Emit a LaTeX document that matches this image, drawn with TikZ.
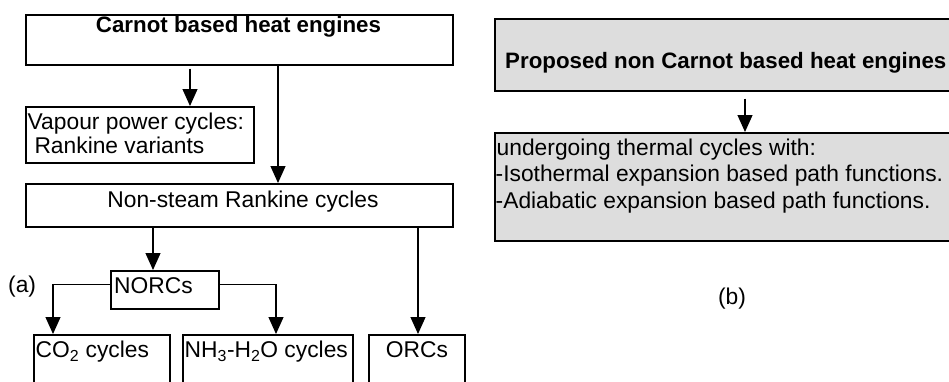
\documentclass[tikz,border=0pt]{standalone}
\usepackage{fontspec}
\setmainfont{Liberation Sans}
\usetikzlibrary{arrows.meta,calc}
\definecolor{boxgrey}{RGB}{221,221,221}
\begin{document}
\begin{tikzpicture}[x=1pt,y=-1pt,
  box/.style={draw=black, line width=1.6pt, anchor=north west, inner sep=0pt},
  greybox/.style={box, fill=boxgrey},
  txt/.style={inner sep=0pt, font=\fontsize{22.8}{27}\selectfont},
  btxt/.style={inner sep=0pt, font=\fontsize{22.3}{27}\selectfont\bfseries},
  arr/.style={line width=1.2pt, -{Triangle[length=17pt,width=15pt]}}]
\useasboundingbox (0,0) rectangle (949,381);
\clip (0,0) rectangle (949,381);
% boxes (a)
\node[box, minimum width=427pt, minimum height=50pt] (carnot) at (25,14) {};
\node[box, minimum width=228pt, minimum height=56pt] (vap) at (25,106) {};
\node[box, minimum width=427pt, minimum height=43pt] (nonsteam) at (25,183) {};
\node[box, minimum width=108pt, minimum height=38pt] (norcs) at (110,270) {};
\node[box, minimum width=136pt, minimum height=70pt] (co2) at (33,334) {};
\node[box, minimum width=170pt, minimum height=70pt] (nh3) at (182,334) {};
\node[box, minimum width=96pt, minimum height=70pt] (orcs) at (368,334) {};
% boxes (b)
\node[greybox, minimum width=480pt, minimum height=72pt] (prop) at (494,18) {};
\node[greybox, minimum width=480pt, minimum height=108pt] (undergo) at (494,132) {};
% texts (a)
\node[btxt, anchor=base] (tcarnot) at (238.5,32) {Carnot based heat engines};
\node[txt, anchor=base west] (tvap1) at (27.5,129) {Vapour power cycles:};
\node[txt, anchor=base west] (tvap2) at (28,153) {\ Rankine variants};
\node[txt, anchor=base] (tnonsteam) at (243,207) {Non-steam Rankine cycles};
\node[txt, anchor=base west] (tnorcs) at (114,293) {NORCs};
\node[txt, anchor=base west] (tco2) at (35.5,357) {CO\textsubscript{2} cycles};
\node[txt, anchor=base west] (tnh3) at (184.5,357) {NH\textsubscript{3}-H\textsubscript{2}O cycles};
\node[txt, anchor=base] (torcs) at (417,357) {ORCs};
\node[txt, anchor=base west] (la) at (8,292) {(a)};
% texts (b)
\node[btxt, anchor=base west] (tprop) at (505,68) {Proposed non Carnot based heat engines};
\node[txt, anchor=base west] (tu1) at (496.5,155) {undergoing thermal cycles with:};
\node[txt, anchor=base west] (tu2) at (495.5,181) {-Isothermal expansion based path functions.};
\node[txt, anchor=base west] (tu3) at (495.5,208) {-Adiabatic expansion based path functions.};
\node[txt, anchor=base] (lb) at (732,304) {(b)};
% connectors
\draw[arr] ([xshift=165pt,yshift=-3pt]carnot.south west) -- ([xshift=165pt]vap.north west);
\draw[arr] ([xshift=253pt]carnot.south west) -- ([xshift=253pt]nonsteam.north west);
\draw[arr] ([xshift=128pt]nonsteam.south west) -- ([xshift=43pt]norcs.north west);
\draw[arr] ([yshift=5pt]norcs.west) -| ([xshift=20pt]co2.north west);
\draw[arr] ([yshift=5pt]norcs.east) -| ([xshift=94pt]nh3.north west);
\draw[arr] ([xshift=393pt]nonsteam.south west) -- ([xshift=50pt]orcs.north west);
\draw[arr] ([xshift=251pt,yshift=-7pt]prop.south west) -- ([xshift=251pt]undergo.north west);
\end{tikzpicture}
\end{document}
